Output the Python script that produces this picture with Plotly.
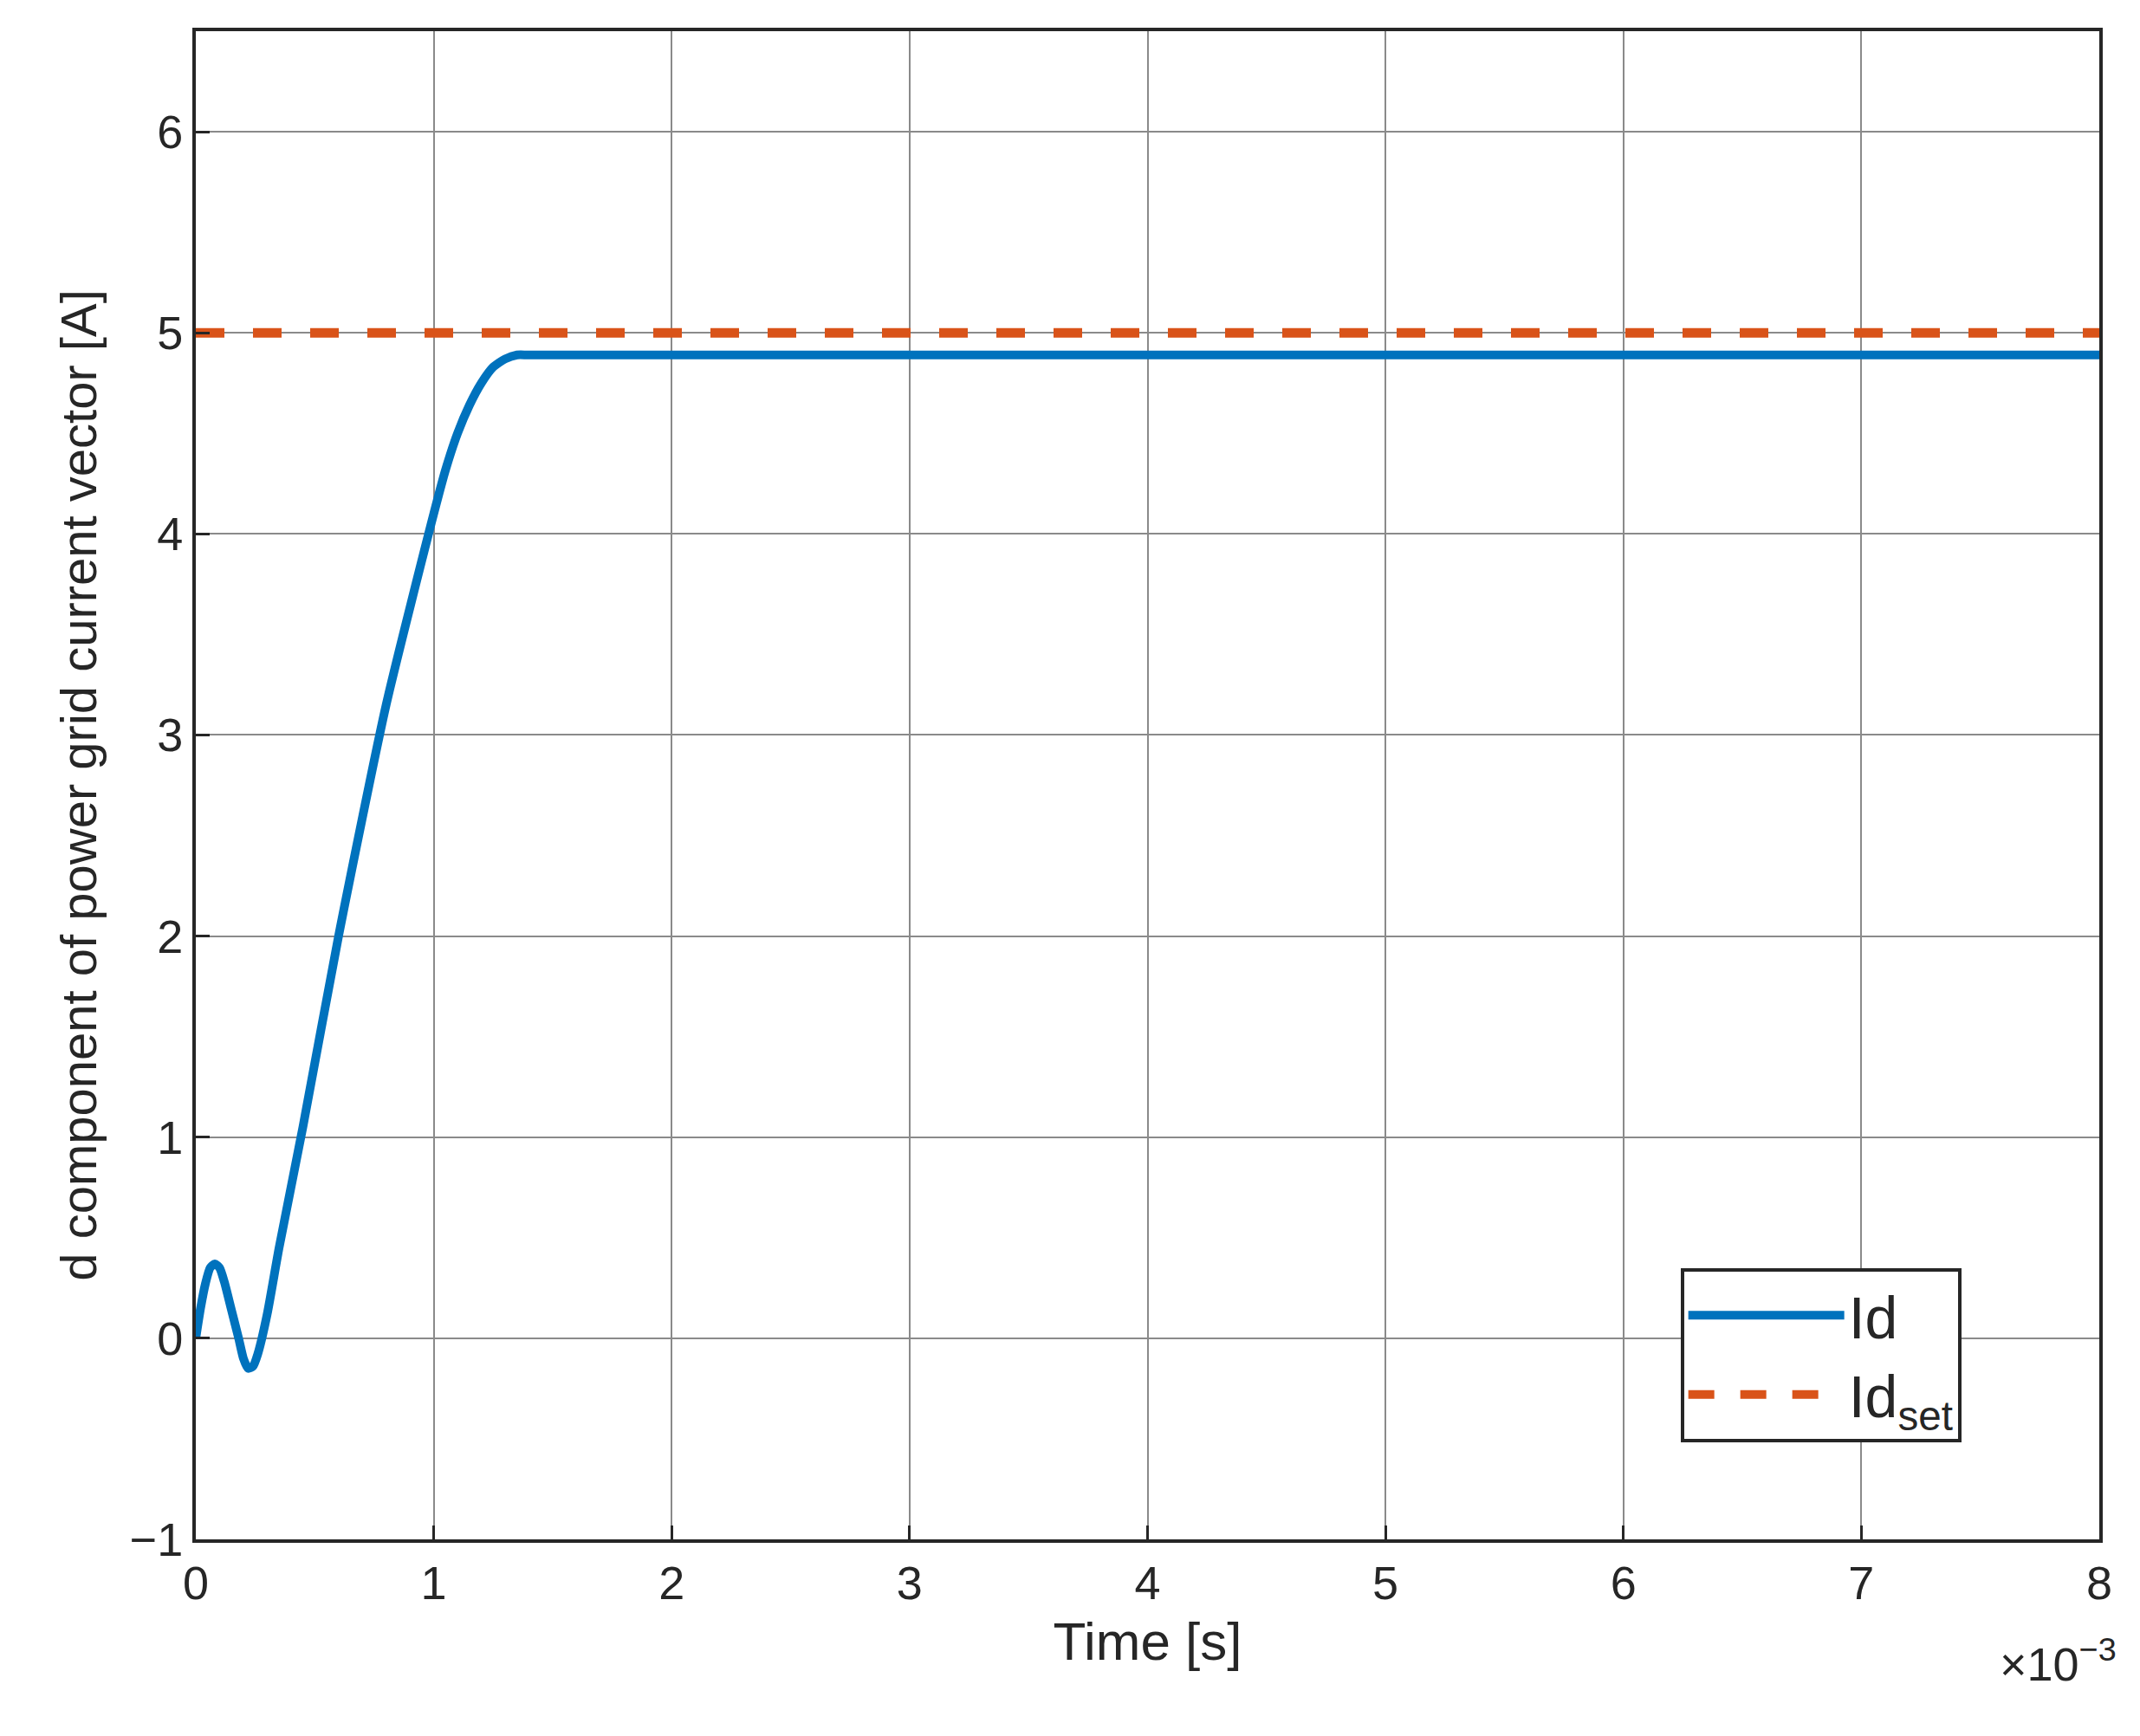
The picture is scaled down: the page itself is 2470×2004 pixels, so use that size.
import plotly.graph_objects as go

# Id response (time in s, current in A)
t_id = [0, 0.00002, 0.00004, 0.00006, 0.00008, 0.0001, 0.00012, 0.00015, 0.00018, 0.0002,
        0.00022, 0.00024, 0.00026, 0.0003, 0.00035, 0.00045, 0.0006, 0.0008, 0.001,
        0.00105, 0.0011, 0.00115, 0.0012, 0.00125, 0.0013, 0.00135, 0.0014, 0.004, 0.008]
id_vals = [0, 0.15, 0.27, 0.35, 0.37, 0.35, 0.28, 0.14, 0.0, -0.1,
           -0.15, -0.14, -0.08, 0.12, 0.45, 1.05, 2.0, 3.15, 4.1,
           4.32, 4.5, 4.64, 4.75, 4.83, 4.87, 4.89, 4.89, 4.89, 4.89]
t_set = [0, 0.008]
id_set = [5, 5]

x_ticks = [i * 0.001 for i in range(9)]
x_labels = [str(i) for i in range(9)]
y_ticks = list(range(-1, 7))
y_labels = ["\u22121"] + [str(v) for v in range(0, 7)]

fig = go.Figure()
fig.add_trace(go.Scatter(x=t_id, y=id_vals, mode="lines", name="Id",
                         line=dict(color="#0072BD", width=10, shape="spline", smoothing=0.6)))
fig.add_trace(go.Scatter(x=t_set, y=id_set, mode="lines", name="Id<sub>set</sub>",
                         line=dict(color="#D95319", width=11, dash="dash")))

axis_common = dict(showline=True, linecolor="#262626", linewidth=4, mirror=True,
                   showgrid=True, gridcolor="#8a8a8a", gridwidth=2,
                   ticks="inside", ticklen=16, tickcolor="#262626", tickwidth=3,
                   zeroline=False, tickfont=dict(size=54, color="#262626"))

fig.update_xaxes(range=[0, 0.008], tickvals=x_ticks, ticktext=x_labels,
                 title=dict(text="Time [s]", font=dict(size=62, color="#262626"), standoff=18),
                 **axis_common)
fig.update_yaxes(range=[-1, 6.5], tickvals=y_ticks, ticktext=y_labels,
                 title=dict(text="d component of power grid current vector [A]",
                            font=dict(size=58, color="#262626"), standoff=20),
                 **axis_common)

fig.add_annotation(x=1.01, y=-0.06, xref="paper", yref="paper", xanchor="right", yanchor="top",
                   text="\u00d710<sup>\u22123</sup>", showarrow=False,
                   font=dict(size=54, color="#262626"))

fig.update_layout(
    width=2470, height=2004,
    paper_bgcolor="white", plot_bgcolor="white",
    font=dict(family="Liberation Sans, Arial, sans-serif", color="#262626"),
    margin=dict(l=218, r=55, t=28, b=235),
    legend=dict(x=0.78, y=0.18, xanchor="left", yanchor="top",
                bgcolor="white", bordercolor="#262626", borderwidth=4,
                font=dict(size=68, color="#262626"), itemwidth=180),
    showlegend=True,
)

fig.write_html("out.html")
